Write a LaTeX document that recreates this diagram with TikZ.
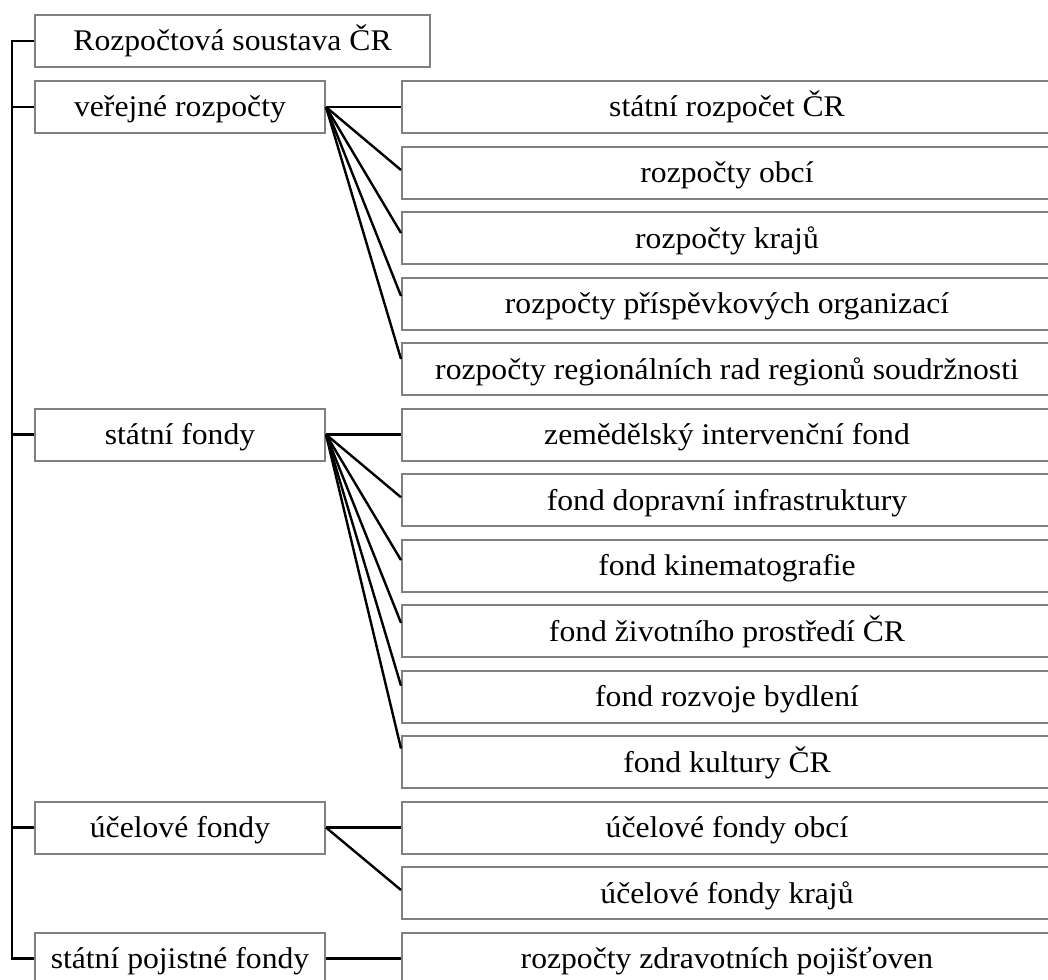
\documentclass[tikz,border=0pt]{standalone}
\usepackage{fontspec}
\setmainfont{Liberation Serif}[FakeStretch=1.055]
\usepackage{tikz}

\begin{document}
\begin{tikzpicture}[x=1pt,y=-1pt,
  box/.style={draw=black!50,line width=2pt,rectangle,minimum height=52pt,
    inner sep=0pt,text height=20pt,text depth=0pt,
    font=\fontsize{30}{36}\selectfont},
  leftbox/.style={box,minimum width=290pt},
  rightbox/.style={box,minimum width=650pt},
  conn/.style={line width=2.4pt,black}]
\useasboundingbox (0,0) rectangle (1048,979);
%left column
\node[box,minimum width=395pt] (root) at (232.5,41) {Rozpočtová soustava ČR};
\node[leftbox] (verejne) at (180,107) {veřejné rozpočty};
\node[leftbox] (statni) at (180,434.5) {státní fondy};
\node[leftbox] (ucelove) at (180,827.5) {účelové fondy};
\node[leftbox] (pojistne) at (180,958.5) {státní pojistné fondy};
%right column
\node[rightbox] (v1) at (727,107) {státní rozpočet ČR};
\node[rightbox] (v2) at (727,172.5) {rozpočty obcí};
\node[rightbox] (v3) at (727,238) {rozpočty krajů};
\node[rightbox] (v4) at (727,303.5) {rozpočty příspěvkových organizací};
\node[rightbox] (v5) at (727,369) {rozpočty regionálních rad regionů soudržnosti};
\node[rightbox] (s1) at (727,434.5) {zemědělský intervenční fond};
\node[rightbox] (s2) at (727,500) {fond dopravní infrastruktury};
\node[rightbox] (s3) at (727,565.5) {fond kinematografie};
\node[rightbox] (s4) at (727,631) {fond životního prostředí ČR};
\node[rightbox] (s5) at (727,696.5) {fond rozvoje bydlení};
\node[rightbox] (s6) at (727,762) {fond kultury ČR};
\node[rightbox] (u1) at (727,827.5) {účelové fondy obcí};
\node[rightbox] (u2) at (727,893) {účelové fondy krajů};
\node[rightbox] (p1) at (727,958.5) {rozpočty zdravotních pojišťoven};
%spine
\coordinate (spine) at (12,41);
\draw[conn] (root.west) -- (root.west -| spine) -- (pojistne.west -| spine) -- (pojistne.west);
\foreach \n in {verejne,statni,ucelove}
  \draw[conn] (\n.west -| spine) -- (\n.west);
%branches
\foreach \i in {1,...,5}
  \draw[conn] (verejne.east) -- ([yshift={2.5*(\i-1)}]v\i.west);
\foreach \i in {1,...,6}
  \draw[conn] (statni.east) -- ([yshift={2.7*(\i-1)}]s\i.west);
\foreach \i in {1,2}
  \draw[conn] (ucelove.east) -- ([yshift={3*(\i-1)}]u\i.west);
\draw[conn] (pojistne.east) -- (p1.west);
\end{tikzpicture}
\end{document}
